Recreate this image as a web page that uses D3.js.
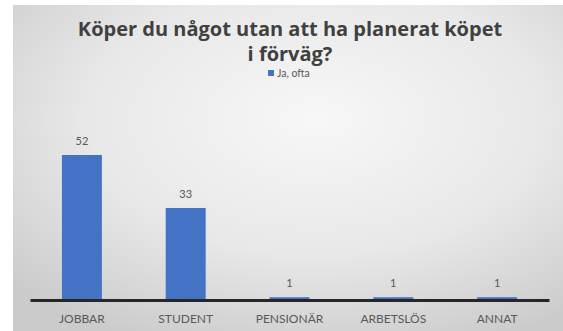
<!DOCTYPE html>
<html>
<head>
<meta charset="utf-8">
<script src="https://cdn.jsdelivr.net/npm/d3@7"></script>
<style>
  html, body { margin: 0; padding: 0; background: #ffffff; }
  svg { display: block; }
</style>
</head>
<body>
<svg id="chart" width="563" height="331"></svg>
<script>
// Survey answers per occupation group
const categories = ["JOBBAR", "STUDENT", "PENSIONÄR", "ARBETSLÖS", "ANNAT"];
const values = [52, 33, 1, 1, 1];
const seriesName = "Ja, ofta";
const titleLines = ["Köper du något utan att ha planerat köpet", "i förväg?"];

const W = 563, H = 331;
const svg = d3.select("#chart");

// Panel background with soft radial shading
const defs = svg.append("defs");
const grad = defs.append("radialGradient")
  .attr("id", "bg").attr("cx", "55%").attr("cy", "35%").attr("r", "75%");
grad.append("stop").attr("offset", "0%").attr("stop-color", "#f7f7f7");
grad.append("stop").attr("offset", "55%").attr("stop-color", "#e8e8e8");
grad.append("stop").attr("offset", "100%").attr("stop-color", "#cbcbcb");

svg.append("rect").attr("x", 13).attr("y", 5).attr("width", W - 13).attr("height", H - 5)
  .attr("fill", "url(#bg)");

const font = "Lato, 'Open Sans', sans-serif";
const titleFont = "'Open Sans', Lato, sans-serif";

// Title
svg.append("text")
  .attr("text-anchor", "middle")
  .attr("font-family", titleFont).attr("font-weight", 700).attr("font-size", 20)
  .attr("fill", "#404040")
  .selectAll("tspan").data(titleLines).join("tspan")
  .attr("x", 290).attr("y", (d, i) => 36 + i * 25)
  .text(d => d);

// Legend
const legend = svg.append("g").attr("transform", "translate(268,73)");
legend.append("rect").attr("x", 0).attr("y", -3).attr("width", 6).attr("height", 6).attr("fill", "#4472c4");
legend.append("text").attr("x", 9).attr("y", 3.5)
  .attr("font-family", font).attr("font-size", 10.5).attr("fill", "#595959")
  .text(seriesName);

// Scales
const x = d3.scaleBand().domain(categories).range([30, 549]).paddingInner(0.615).paddingOuter(0.3075);
const y = d3.scaleLinear().domain([0, 52]).range([300, 155]);

// Bars
svg.append("g").selectAll("rect").data(values).join("rect")
  .attr("x", (d, i) => x(categories[i]))
  .attr("y", d => y(d))
  .attr("width", x.bandwidth())
  .attr("height", d => y(0) - y(d))
  .attr("fill", "#4472c4");

// Value labels
svg.append("g").selectAll("text").data(values).join("text")
  .attr("x", (d, i) => x(categories[i]) + x.bandwidth() / 2)
  .attr("y", d => y(d) - 10)
  .attr("text-anchor", "middle")
  .attr("font-family", font).attr("font-size", 11).attr("fill", "#595959")
  .text(d => d);

// Category axis
const axis = svg.append("g").attr("transform", `translate(0,${y(0)})`)
  .call(d3.axisBottom(x).tickSize(0).tickPadding(14));
axis.select(".domain").attr("stroke", "#262626").attr("stroke-width", 3);
axis.selectAll("text")
  .attr("font-family", font).attr("font-size", 12).attr("fill", "#595959");
</script>
</body>
</html>
